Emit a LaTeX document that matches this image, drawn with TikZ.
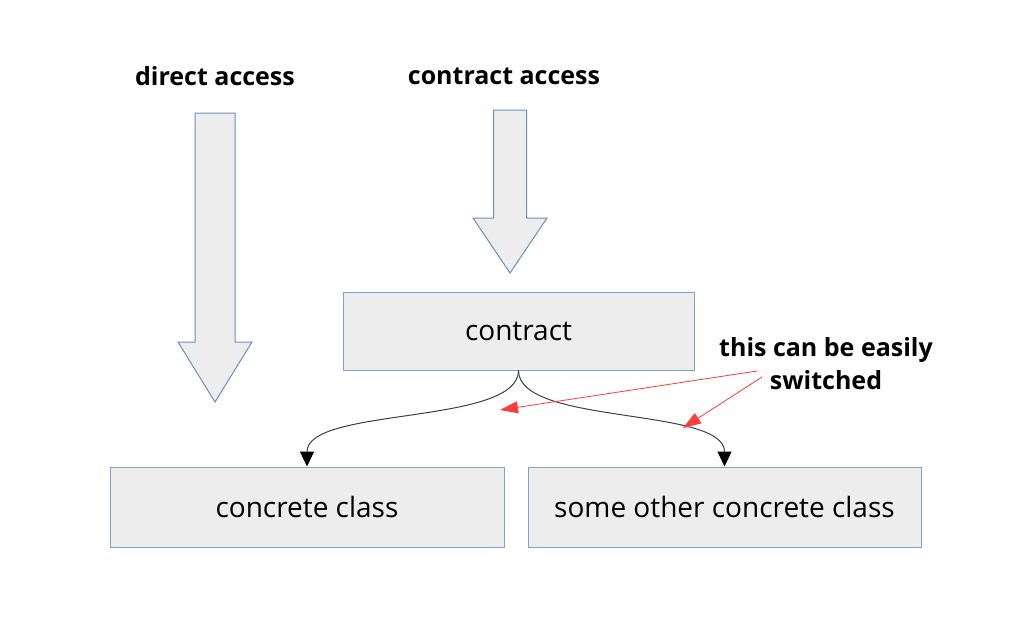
\documentclass[tikz,border=0pt]{standalone}
\usepackage{fontspec}
\setmainfont{Open Sans}
\usetikzlibrary{arrows.meta}
\definecolor{boxfill}{RGB}{237,237,237}
\definecolor{boxline}{RGB}{130,160,206}
\definecolor{arrowline}{RGB}{108,142,191}
\definecolor{hint}{RGB}{255,60,60}
\newcommand{\px}{1pt}
\newcommand{\accessarrow}[6]{
	\draw [block](#1-#5,#2) -- (#1+#5,#2) -- (#1+#5,#3) -- (#1+#6,#3) -- (#1,#4) -- (#1-#6,#3) -- (#1-#5,#3) -- cycle;
	}

\begin{document}
\begin{tikzpicture}[
      x=\px, y=-\px, %pixel grid, y downwards
      block/.style={fill=boxfill, draw=arrowline, line width=1pt, line join=miter},
      box/.style={fill=boxfill, draw=boxline, line width=1pt, inner sep=0pt, font=\fontsize{28}{32}\selectfont},
      link/.style={draw=black!75, line width=1pt, -{Triangle[length=15pt,width=14pt,fill=black,color=black]}},
      hintarrow/.style={draw=hint, line width=0.8pt, -{Triangle[length=18pt,width=12pt]}},
      heading/.style={font=\fontsize{25}{33}\selectfont\bfseries}
    ]
    \useasboundingbox [fill=white](0,0) rectangle (1024,622);
    %Name the two ways in
    \node[heading] (direct) at (215,76) {direct access};
    \node[heading] (contractaccess) at (504,76) {contract access};
    % Draw the big arrows
    \accessarrow{215}{113}{342}{402}{20}{37};
    \accessarrow{510}{110}{218}{273}{16.5}{37};
    % Draw the boxes
    \node[box, minimum width=351pt, minimum height=78pt] (contract) at (518.5,331) {contract};
    \node[box, minimum width=394pt, minimum height=80pt] (concrete) at (307,507) {concrete class};
    \node[box, minimum width=393pt, minimum height=80pt] (other) at (724.5,507) {some other concrete class};
    % Draw the links
    \draw [link](contract.south) .. controls +(0,55) and +(0,-60) .. (concrete.north);
    \draw [link](contract.south) .. controls +(0,55) and +(0,-60) .. (other.north);
    %note
    \node[heading, align=center] (note) at (826,364) {this can be easily\\switched};
    \coordinate (fromleft) at (757,371);
    \coordinate (fromright) at (762,377);
    \coordinate (toleft) at (500,410);
    \coordinate (toright) at (683,428);
    \draw [hintarrow](fromleft) -- (toleft);
    \draw [hintarrow](fromright) -- (toright);
\end{tikzpicture}
\end{document}
